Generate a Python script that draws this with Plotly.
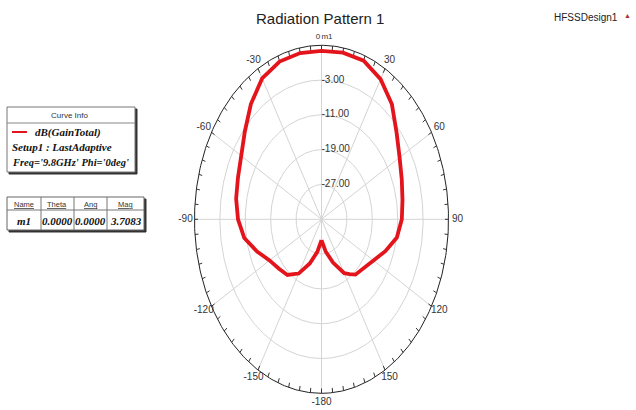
import numpy as np
import plotly.graph_objects as go

# ---------------- data ----------------
theta_deg = [-180, -170, -160, -150, -145, -140, -130, -120, -110, -100, -90, -80, -70,
             -60, -50, -40, -30, -20, -10, 0, 10, 20, 30, 40, 50, 60, 70, 80, 90,
             100, 110, 120, 130, 140, 145, 150, 160, 170, 180]
gain_db = [-30.2, -27.4, -24.2, -20.6, -19.6, -18.3, -17.4, -16.1, -13.4, -10.3, -8.7, -7.7, -7.0,
           -5.7, -3.5, -0.4, 2.4, 3.6, 3.8, 3.7083, 3.9, 3.8, 2.2, -0.5, -4.1, -6.6, -8.1, -9.1, -9.7,
           -10.9, -13.6, -16.1, -17.7, -18.4, -19.6, -20.7, -24.4, -27.5, -30.2]
r_min, r_max = -35.0, 5.0
r_ticks = [-27, -19, -11, -3]
r_tick_labels = ["-27.00", "-19.00", "-11.00", "-3.00"]
angle_ticks = [30, 60, 90, 120, 150, 180, -150, -120, -90, -60, -30]
angle_tick_labels = ["30", "60", "90", "120", "150", "-180", "-150", "-120", "-90", "-60", "-30"]
marker_name = ["m1"]
marker_theta = [0.0]
marker_mag = [3.7083]

# ---------------- geometry (pixel scaling of the stretched polar frame) ----------------
W, H = 636, 410
cx, cy = 321.5, 219.3          # centre in pixels
rx_px, ry_px = 127.0, 174.0    # radii of outer ring in pixels
span = r_max - r_min
kx, ky = rx_px / span, ry_px / span
x_range = [-cx / kx, (W - cx) / kx]
y_range = [-(H - cy) / ky, cy / ky]


def proj(theta, r):
    t = np.radians(np.asarray(theta, dtype=float))
    rr = np.asarray(r, dtype=float) - r_min
    return rr * np.sin(t), rr * np.cos(t)


fig = go.Figure()

# grid rings
phi = np.linspace(-180, 180, 361)
grid_x, grid_y = [], []
for rv in r_ticks:
    gx, gy = proj(phi, np.full_like(phi, rv))
    grid_x += list(gx) + [None]
    grid_y += list(gy) + [None]
fig.add_trace(go.Scatter(x=grid_x, y=grid_y, mode="lines",
                         line=dict(color="#d4d4d4", width=1), hoverinfo="skip"))

# spokes
sx, sy = [], []
for a in range(0, 360, 30):
    x0, y0 = proj([a, a], [r_min, r_max])
    sx += list(x0) + [None]
    sy += list(y0) + [None]
fig.add_trace(go.Scatter(x=sx, y=sy, mode="lines",
                         line=dict(color="#d4d4d4", width=1), hoverinfo="skip"))

# outer ring
ox, oy = proj(phi, np.full_like(phi, r_max))
fig.add_trace(go.Scatter(x=ox, y=oy, mode="lines",
                         line=dict(color="#222222", width=1), hoverinfo="skip"))

# tick marks every 5 degrees
tx, ty = [], []
for a in range(-180, 180, 5):
    x0, y0 = proj([a, a], [r_max, r_max - 1.1])
    tx += list(x0) + [None]
    ty += list(y0) + [None]
fig.add_trace(go.Scatter(x=tx, y=ty, mode="lines",
                         line=dict(color="#333333", width=1), hoverinfo="skip"))

# radiation pattern curve
cxs, cys = proj(theta_deg, gain_db)
fig.add_trace(go.Scatter(x=cxs, y=cys, mode="lines",
                         line=dict(color="#e3141b", width=3.8), hoverinfo="skip"))

FONT_AX = "Liberation Sans Narrow, Liberation Sans, Arial"

# radial labels
rl_x, rl_y = proj([0] * len(r_ticks), r_ticks)
fig.add_trace(go.Scatter(x=rl_x, y=rl_y, mode="text", text=r_tick_labels,
                         textposition="middle right",
                         textfont=dict(family=FONT_AX, size=10, color="#333333"),
                         hoverinfo="skip"))

# angle labels placed 9 px outside the outer ring
at = np.radians(np.asarray(angle_ticks, dtype=float))
ax0, ay0 = proj(angle_ticks, [r_max] * len(angle_ticks))
al_x = ax0 + 9 * np.sin(at) / kx
al_y = ay0 + 9 * np.cos(at) / ky
fig.add_trace(go.Scatter(x=al_x, y=al_y, mode="text", text=angle_tick_labels,
                         textposition="middle center",
                         textfont=dict(family=FONT_AX, size=10, color="#333333"),
                         hoverinfo="skip"))

# "0" label and marker m1 at the top (side by side, as in the reference "ø1")
top_y = (r_max - r_min) + 8 / ky
fig.add_trace(go.Scatter(x=[-3.5 / kx, 5.5 / kx], y=[top_y, top_y], mode="text",
                         text=["0", marker_name[0]],
                         textposition="middle center",
                         textfont=dict(family=FONT_AX, size=8, color="#333333"),
                         hoverinfo="skip"))


# ---------------- annotations (legend boxes) ----------------
def px(x):
    return x / W


def py(y):
    return 1 - y / H


shapes = []
annotations = []


def rect(x0, y0, x1, y1, line="#555555", fill="white", w=1):
    shapes.append(dict(type="rect", xref="paper", yref="paper", x0=px(x0), y0=py(y1), x1=px(x1), y1=py(y0),
                       line=dict(color=line, width=w), fillcolor=fill, layer="above"))


def hline(x0, x1, y, color="#555555", w=1):
    shapes.append(dict(type="line", xref="paper", yref="paper", x0=px(x0), x1=px(x1), y0=py(y), y1=py(y),
                       line=dict(color=color, width=w), layer="above"))


def vline(x, y0, y1, color="#555555", w=1):
    shapes.append(dict(type="line", xref="paper", yref="paper", x0=px(x), x1=px(x), y0=py(y0), y1=py(y1),
                       line=dict(color=color, width=w), layer="above"))


def text(x, y, s, size, family, color="#111111", xanchor="center", bold=False, italic=False):
    if bold:
        s = "<b>" + s + "</b>"
    if italic:
        s = "<i>" + s + "</i>"
    annotations.append(dict(xref="paper", yref="paper", x=px(x), y=py(y), text=s, showarrow=False,
                            xanchor=xanchor, yanchor="middle",
                            font=dict(size=size, family=family, color=color)))


SERIF = "Liberation Serif, Times New Roman, serif"
SANS = "Liberation Sans Narrow, Liberation Sans, Arial"

# curve info box
rect(9, 109, 137, 174, line="#333333", fill="#333333")
rect(7, 107, 135, 172, line="#777777", fill="white")
hline(7, 135, 123, color="#888888")
text(69, 115, "Curve Info", 8, SANS, color="#333333")
hline(12, 27, 132, color="#e3141b", w=2)
text(33, 132, "dB(GainTotal)", 11, SERIF, xanchor="left", bold=True, italic=True)
text(10, 147, "Setup1 : LastAdaptive", 11, SERIF, xanchor="left", bold=True, italic=True)
text(10, 162, "Freq='9.8GHz' Phi='0deg'", 10.5, SERIF, xanchor="left", bold=True, italic=True)

# marker table
rect(9, 199, 146, 232, line="#333333", fill="#333333")
rect(7, 197, 144, 230, line="#666666", fill="white")
hline(7, 144, 210, color="#777777")
for xc in [41, 74, 107]:
    vline(xc, 197, 230, color="#777777")
col_centres = [24, 57.5, 90.5, 125.5]
headers = ["Name", "Theta", "Ang", "Mag"]
row = [marker_name[0], "%.4f" % marker_theta[0], "%.4f" % 0.0, "%.4f" % marker_mag[0]]
for xc, hd, v in zip(col_centres, headers, row):
    text(xc, 204, "<u>" + hd + "</u>", 7.5, SANS, color="#333333")
    text(xc, 221, v, 11, SERIF, bold=True, italic=True)

# title and design name
text(320, 18, "Radiation Pattern 1", 15, SANS, color="#222222")
text(586, 17, "HFSSDesign1", 10, SANS, color="#222222")
text(627, 15, "▲", 7, SANS, color="#b03030")

fig.update_layout(
    width=W, height=H,
    margin=dict(l=0, r=0, t=0, b=0),
    paper_bgcolor="white", plot_bgcolor="white",
    showlegend=False,
    xaxis=dict(range=x_range, visible=False, fixedrange=True),
    yaxis=dict(range=y_range, visible=False, fixedrange=True),
    shapes=shapes, annotations=annotations,
)

fig.write_html("out.html")
